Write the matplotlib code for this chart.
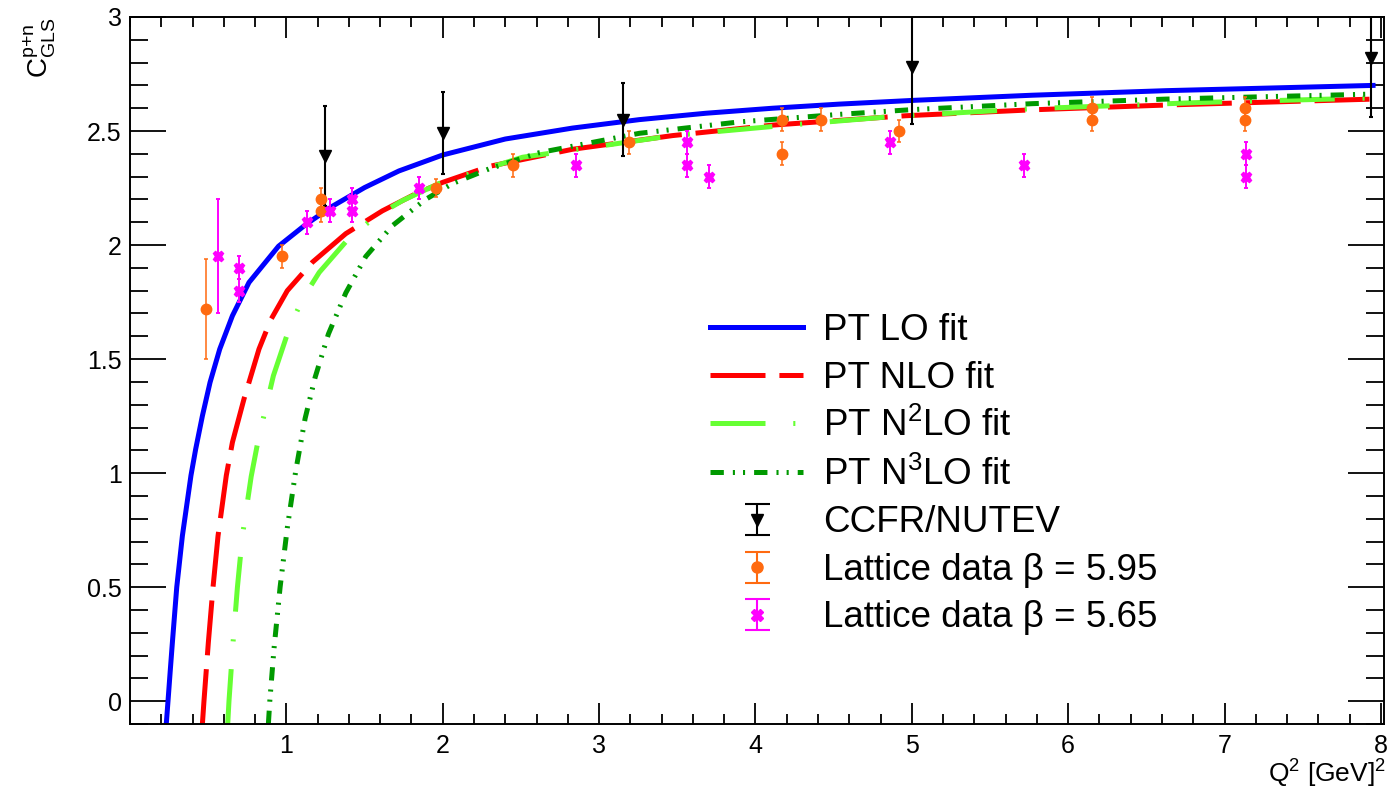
import matplotlib
matplotlib.use('Agg')
import matplotlib.pyplot as plt
from matplotlib.ticker import MultipleLocator, FixedLocator, FuncFormatter
from matplotlib.legend_handler import HandlerErrorbar
from matplotlib.container import ErrorbarContainer
import numpy as np

plt.rcParams['font.family'] = ['Liberation Sans', 'DejaVu Sans']
plt.rcParams['mathtext.fontset'] = 'custom'
plt.rcParams['mathtext.rm'] = 'Liberation Sans'
plt.rcParams['mathtext.it'] = 'Liberation Sans'
plt.rcParams['mathtext.bf'] = 'Liberation Sans'
plt.rcParams['lines.scale_dashes'] = False

# fit curves (Q^2, C_GLS)
lo_q2 = [0.232, 0.243, 0.257, 0.271, 0.299, 0.335, 0.39, 0.42, 0.463, 0.512, 0.574, 0.655, 0.761,
         0.95, 1.124, 1.294, 1.5, 1.72, 2.0, 2.4, 2.83, 3.257, 3.683, 4.11, 4.535, 5.026,
         5.77, 6.626, 7.95]
lo_c = [-0.1, 0.0, 0.13, 0.257, 0.5, 0.725, 0.99, 1.105, 1.251, 1.398, 1.544, 1.69, 1.836,
        1.995, 2.09, 2.17, 2.252, 2.325, 2.395, 2.465, 2.513, 2.55, 2.578, 2.60, 2.618, 2.635,
        2.657, 2.677, 2.70]

nlo_q2 = [0.463, 0.473, 0.501, 0.531, 0.563, 0.616, 0.655, 0.729, 0.825, 0.90, 1.006, 1.167, 1.38,
          1.614, 1.828, 2.0, 2.297, 2.83, 3.47, 4.11, 4.96, 5.77, 6.626, 7.95]
nlo_c = [-0.1, 0.0, 0.257, 0.5, 0.725, 0.99, 1.135, 1.325, 1.544, 1.672, 1.80, 1.925, 2.05,
         2.15, 2.225, 2.275, 2.345, 2.42, 2.48, 2.526, 2.567, 2.593, 2.614, 2.64]

n2lo_q2 = [0.625, 0.633, 0.659, 0.687, 0.719, 0.775, 0.821, 0.917, 1.017, 1.103, 1.21, 1.40, 1.57,
           1.742, 1.977, 2.51, 3.47, 4.11, 4.9, 5.77, 6.84, 7.95]
n2lo_c = [-0.1, 0.0, 0.257, 0.5, 0.725, 0.985, 1.149, 1.427, 1.632, 1.763, 1.88, 2.03, 2.125,
          2.195, 2.27, 2.385, 2.48, 2.52, 2.565, 2.598, 2.625, 2.645]

n3lo_q2 = [0.885, 0.894, 0.921, 0.96, 1.006, 1.06, 1.12, 1.184, 1.269, 1.38, 1.508, 1.678, 1.89,
           2.063, 2.3, 2.617, 3.257, 3.897, 4.535, 5.005, 5.77, 6.626, 7.95]
n3lo_c = [-0.1, 0.0, 0.23, 0.5, 0.76, 1.01, 1.24, 1.42, 1.61, 1.79, 1.95, 2.085, 2.20,
          2.27, 2.335, 2.405, 2.49, 2.54, 2.573, 2.594, 2.62, 2.64, 2.662]

# CCFR/NUTEV
ccfr_q2 = [1.25, 2.0, 3.15, 5.0, 7.94]
ccfr_c = [2.39, 2.49, 2.55, 2.78, 2.82]
ccfr_err = [0.22, 0.18, 0.16, 0.25, 0.26]

# lattice beta = 5.95
l95_q2 = [0.484, 0.97, 1.22, 1.22, 1.96, 2.45, 3.19, 4.17, 4.17, 4.42, 4.92, 6.15, 6.15, 7.13, 7.13]
l95_c = [1.72, 1.95, 2.20, 2.15, 2.25, 2.35, 2.45, 2.55, 2.40, 2.55, 2.50, 2.60, 2.55, 2.60, 2.55]
l95_err = [0.22, 0.05, 0.05, 0.05, 0.04, 0.05, 0.05, 0.05, 0.05, 0.05, 0.05, 0.05, 0.05, 0.05, 0.05]

# lattice beta = 5.65
l65_q2 = [0.563, 0.70, 0.70, 1.13, 1.28, 1.42, 1.42, 1.85, 2.85, 3.56, 3.56, 3.70, 4.86, 5.72, 7.14, 7.14]
l65_c = [1.95, 1.90, 1.80, 2.10, 2.15, 2.20, 2.15, 2.25, 2.35, 2.45, 2.35, 2.30, 2.45, 2.35, 2.40, 2.30]
l65_err = [0.25, 0.05, 0.05, 0.05, 0.05, 0.05, 0.05, 0.05, 0.05, 0.05, 0.05, 0.05, 0.05, 0.05, 0.05, 0.05]

c_blue, c_red = '#0000ff', '#ff0000'
c_lgreen, c_dgreen = '#66ff33', '#009900'
c_orange, c_mag = '#ff6a10', '#ff00ff'

fig = plt.figure(figsize=(13.89, 7.93), dpi=100)
ax = fig.add_axes([130/1389, 1-724/793, 1254/1389, 707/793])

lw = 3.6
h_lo, = ax.plot(lo_q2, lo_c, color=c_blue, lw=lw, solid_joinstyle='round')
h_nlo, = ax.plot(nlo_q2, nlo_c, color=c_red, lw=lw, dashes=[39.6, 10])
h_n2lo, = ax.plot(n2lo_q2, n2lo_c, color=c_lgreen, lw=lw, dashes=[39.6, 20, 1.5, 20])
h_n3lo, = ax.plot(n3lo_q2, n3lo_c, color=c_dgreen, lw=lw, dashes=[9.6, 6.5, 1.5, 5.8, 1.5, 6.5])

ax.errorbar(ccfr_q2, ccfr_c, yerr=ccfr_err, fmt='v', color='k', ms=8, elinewidth=1.5, capsize=1.5, capthick=1.5)
ax.errorbar(l95_q2, l95_c, yerr=l95_err, fmt='o', color=c_orange, ms=7.5, elinewidth=1.1, capsize=1.5, capthick=1.1)
ax.errorbar(l65_q2, l65_c, yerr=l65_err, fmt='X', color=c_mag, ms=7.5, elinewidth=1.4, capsize=1.5, capthick=1.4)

# legend proxies with wider caps, like the ROOT legend
nan = [np.nan]
p_ccfr = ax.errorbar(nan, nan, yerr=nan, fmt='v', color='k', ms=9, elinewidth=1.5, capsize=9, capthick=1.5)
p_l95 = ax.errorbar(nan, nan, yerr=nan, fmt='o', color=c_orange, ms=8, elinewidth=1.5, capsize=9, capthick=1.5)
p_l65 = ax.errorbar(nan, nan, yerr=nan, fmt='X', color=c_mag, ms=8, elinewidth=1.5, capsize=9, capthick=1.5)

ax.set_xlim(0, 8.02)
ax.set_ylim(-0.1, 3.0)

ax.xaxis.set_major_locator(FixedLocator([1, 2, 3, 4, 5, 6, 7, 8]))
ax.xaxis.set_minor_locator(MultipleLocator(0.2))
ax.yaxis.set_major_locator(MultipleLocator(0.5))
ax.yaxis.set_minor_locator(MultipleLocator(0.1))
fmt = FuncFormatter(lambda v, p: '%g' % v)
ax.xaxis.set_major_formatter(fmt)
ax.yaxis.set_major_formatter(fmt)

ax.tick_params(which='both', direction='in', top=True, right=True, width=1.3, labelsize=18)
ax.tick_params(axis='x', which='major', length=15, pad=7)
ax.tick_params(axis='x', which='minor', length=7.5)
ax.tick_params(axis='y', which='major', length=26, pad=6)
ax.tick_params(axis='y', which='minor', length=13)
for s in ax.spines.values():
    s.set_linewidth(1.4)

fig.text(40/1389, 1-18/793, r'$\mathrm{C^{p{+}n}_{GLS}}$', rotation=90, ha='center', va='top', fontsize=20)
fig.text(1386/1389, 1-783/793, r'Q$^{2}$ [GeV]$^{2}$', ha='right', va='baseline', fontsize=19)

handles = [h_lo, h_nlo, h_n2lo, h_n3lo, p_ccfr, p_l95, p_l65]
labels = ['PT LO fit', 'PT NLO fit', r'PT N$^{2}$LO fit', r'PT N$^{3}$LO fit', 'CCFR/NUTEV',
          'Lattice data β = 5.95', 'Lattice data β = 5.65']
ax.legend(handles, labels, loc='upper left', bbox_to_anchor=(710/1389, 1-313/793),
          bbox_transform=fig.transFigure, frameon=False, fontsize=26.5, borderpad=0,
          borderaxespad=0, handlelength=2.53, handletextpad=0.54, labelspacing=0.34,
          handler_map={ErrorbarContainer: HandlerErrorbar(xerr_size=0.42)})

fig.savefig('out.png', dpi=100)
